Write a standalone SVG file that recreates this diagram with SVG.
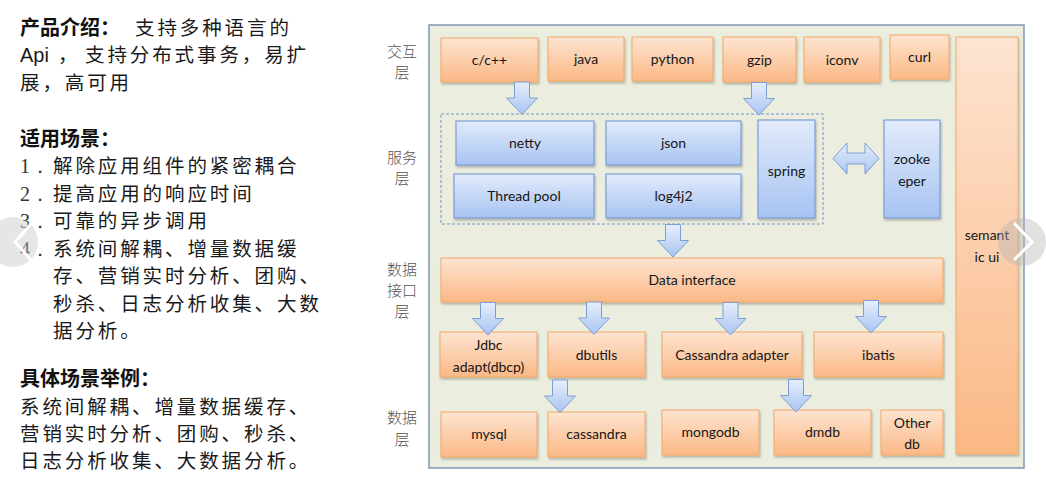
<svg xmlns="http://www.w3.org/2000/svg" xmlns:xlink="http://www.w3.org/1999/xlink" width="1046" height="483" viewBox="0 0 1046 483">
<defs>
<linearGradient id="gO" x1="0" y1="0" x2="0" y2="1"><stop offset="0" stop-color="#fde4d1"/><stop offset="1" stop-color="#fbb885"/></linearGradient>
<linearGradient id="gB" x1="0" y1="0" x2="0" y2="1"><stop offset="0" stop-color="#e2ebfb"/><stop offset="1" stop-color="#a7c3f2"/></linearGradient>
<linearGradient id="gA" x1="0" y1="0" x2="0" y2="1"><stop offset="0" stop-color="#e6eefc"/><stop offset="1" stop-color="#a9c4f1"/></linearGradient>
<filter id="sh" x="-10%" y="-10%" width="130%" height="130%"><feDropShadow dx="1" dy="2" stdDeviation="1" flood-color="#000" flood-opacity="0.25"/></filter>
<path id="da" d="M-7.5,0 H7.5 V16 H15.5 L0,32.5 L-15.5,16 H-7.5 Z"/>
<style>
.o{fill:url(#gO);stroke:#f2a767;stroke-width:1;filter:url(#sh)}
.b{fill:url(#gB);stroke:#7b9dd4;stroke-width:1.2;filter:url(#sh)}
.a{fill:url(#gA);stroke:#7c9ed4;stroke-width:1}
.t{font-family:Lato,"Liberation Sans",sans-serif;font-size:14px;fill:#161616;text-anchor:middle}
.ly{font-family:"Noto Sans CJK SC",sans-serif;font-size:15px;fill:#555;text-anchor:middle;font-weight:300}
.cn{font-family:"Noto Sans CJK SC",sans-serif;font-size:19.5px;fill:#1a1a1a;letter-spacing:2.9px;font-weight:400}
.lat{font-family:"Liberation Sans",sans-serif;font-size:20px;fill:#1a1a1a}
.hd{font-family:"Noto Sans CJK SC",sans-serif;font-size:20px;fill:#111;font-weight:700}
.num{font-family:"Liberation Serif",serif;font-size:20px;fill:#333}
</style>
</defs>
<rect width="1046" height="483" fill="#fff"/>

<g id="intro">
<text class="hd" x="20" y="35">产品介绍：</text>
<text class="cn" x="135" y="35">支持多种语言的</text>
<text class="lat" x="20" y="62">Api</text>
<text class="cn" x="58" y="62">，</text>
<text class="cn" x="85" y="62">支持分布式事务，易扩</text>
<text class="cn" x="20" y="90">展，高可用</text>
<text class="hd" x="20" y="146">适用场景：</text>
<text class="num" x="20" y="173">1．</text><text class="cn" x="53" y="173">解除应用组件的紧密耦合</text>
<text class="num" x="20" y="201">2．</text><text class="cn" x="53" y="201">提高应用的响应时间</text>
<text class="num" x="20" y="228">3．</text><text class="cn" x="53" y="228">可靠的异步调用</text>
<text class="num" x="20" y="256">4．</text><text class="cn" x="53" y="256">系统间解耦、增量数据缓</text>
<text class="cn" x="53" y="283">存、营销实时分析、团购、</text>
<text class="cn" x="53" y="311">秒杀、日志分析收集、大数</text>
<text class="cn" x="53" y="338">据分析。</text>
<text class="hd" x="20" y="386">具体场景举例：</text>
<text class="cn" x="20" y="414">系统间解耦、增量数据缓存、</text>
<text class="cn" x="20" y="441">营销实时分析、团购、秒杀、</text>
<text class="cn" x="20" y="468">日志分析收集、大数据分析。</text>
</g>

<g id="container">
<rect x="429" y="25" width="595" height="443" fill="#ebeedf" stroke="#8096b4" stroke-width="1.5"/>
<rect x="441" y="114" width="382" height="110" fill="none" stroke="#6f93c8" stroke-width="1" stroke-dasharray="3,2"/>
</g>

<g id="layers">
<text class="ly" x="402" y="57">交互</text><text class="ly" x="402" y="78">层</text>
<text class="ly" x="402" y="163">服务</text><text class="ly" x="402" y="184">层</text>
<text class="ly" x="402" y="275">数据</text><text class="ly" x="402" y="296">接口</text><text class="ly" x="402" y="317">层</text>
<text class="ly" x="402" y="423">数据</text><text class="ly" x="402" y="445">层</text>
</g>

<g id="n-cpp"><rect class="o" x="441" y="38" width="97" height="44"/><text class="t" x="489.5" y="65">c/c++</text></g>
<g id="n-java"><rect class="o" x="548" y="37" width="76" height="44"/><text class="t" x="586" y="64">java</text></g>
<g id="n-python"><rect class="o" x="632" y="37" width="81" height="44"/><text class="t" x="672.5" y="64">python</text></g>
<g id="n-gzip"><rect class="o" x="723" y="37" width="73" height="45"/><text class="t" x="759.5" y="65">gzip</text></g>
<g id="n-iconv"><rect class="o" x="804" y="37" width="76" height="45"/><text class="t" x="842" y="65">iconv</text></g>
<g id="n-curl"><rect class="o" x="890" y="35" width="59" height="44"/><text class="t" x="919.5" y="62">curl</text></g>
<g id="n-semantic"><rect class="o" x="956" y="37" width="62" height="417"/><text class="t" x="987" y="240">semant</text><text class="t" x="987" y="262">ic ui</text></g>

<g id="n-netty"><rect class="b" x="456" y="121" width="138" height="44"/><text class="t" x="525" y="148">netty</text></g>
<g id="n-json"><rect class="b" x="606" y="121" width="135" height="44"/><text class="t" x="673.5" y="148">json</text></g>
<g id="n-threadpool"><rect class="b" x="454" y="174" width="140" height="44"/><text class="t" x="524" y="201">Thread pool</text></g>
<g id="n-log4j2"><rect class="b" x="606" y="174" width="135" height="44"/><text class="t" x="673.5" y="201">log4j2</text></g>
<g id="n-spring"><rect class="b" x="758" y="120" width="57" height="98"/><text class="t" x="786.5" y="176">spring</text></g>
<g id="n-zookeeper"><rect class="b" x="884" y="120" width="56" height="98"/><text class="t" x="912" y="164">zooke</text><text class="t" x="912" y="186">eper</text></g>

<g id="n-datainterface"><rect class="o" x="441" y="258" width="502" height="44"/><text class="t" x="692" y="285">Data interface</text></g>

<g id="n-jdbc"><rect class="o" x="440" y="332" width="97" height="45"/><text class="t" x="488.5" y="350">Jdbc</text><text class="t" x="488.5" y="372">adapt(dbcp)</text></g>
<g id="n-dbutils"><rect class="o" x="548" y="332" width="97" height="45"/><text class="t" x="596.5" y="360">dbutils</text></g>
<g id="n-cassadapter"><rect class="o" x="662" y="332" width="140" height="45"/><text class="t" x="732" y="360">Cassandra adapter</text></g>
<g id="n-ibatis"><rect class="o" x="814" y="332" width="129" height="45"/><text class="t" x="878.5" y="360">ibatis</text></g>

<g id="n-mysql"><rect class="o" x="441" y="412" width="96" height="45"/><text class="t" x="489" y="439">mysql</text></g>
<g id="n-cassandra"><rect class="o" x="548" y="412" width="97" height="45"/><text class="t" x="596.5" y="439">cassandra</text></g>
<g id="n-mongodb"><rect class="o" x="662" y="410" width="97" height="45"/><text class="t" x="710.5" y="437">mongodb</text></g>
<g id="n-dmdb"><rect class="o" x="774" y="410" width="97" height="45"/><text class="t" x="822.5" y="437">dmdb</text></g>
<g id="n-otherdb"><rect class="o" x="881" y="410" width="62" height="45"/><text class="t" x="912" y="428">Other</text><text class="t" x="912" y="449">db</text></g>

<g id="connectors">
<use xlink:href="#da" href="#da" class="a" x="522" y="82"/>
<use xlink:href="#da" href="#da" class="a" x="759" y="82.5"/>
<use xlink:href="#da" href="#da" class="a" x="673" y="224.5"/>
<use xlink:href="#da" href="#da" class="a" x="488" y="302.5"/>
<use xlink:href="#da" href="#da" class="a" x="594" y="302"/>
<use xlink:href="#da" href="#da" class="a" x="730.5" y="302.5"/>
<use xlink:href="#da" href="#da" class="a" x="871" y="300.5"/>
<use xlink:href="#da" href="#da" class="a" x="560" y="380"/>
<use xlink:href="#da" href="#da" class="a" x="796" y="379.5"/>
<path class="a" d="M833,158.5 L847,143 V153 H865 V143 L879,158.5 L865,174 V164 H847 V174 Z"/>
</g>

<g id="carousel">
<circle cx="13" cy="242" r="25" fill="#c8c8c8" fill-opacity="0.45"/>
<path d="M31,224 L15,242 L31,260" fill="none" stroke="#fff" stroke-width="3"/>
<circle cx="1022" cy="242" r="24" fill="#b4b4b4" fill-opacity="0.4"/>
<path d="M1014,223 L1032,242 L1014,260" fill="none" stroke="#fff" stroke-width="3"/>
</g>
</svg>
